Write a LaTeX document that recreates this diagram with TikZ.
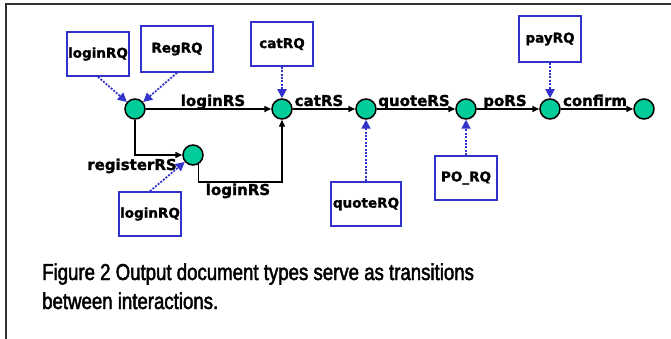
\documentclass[tikz,border=0pt]{standalone}
\usepackage{fontspec}
\usetikzlibrary{arrows.meta}
\newfontfamily\lblfont{DejaVu Sans}[FakeBold=1.5]
\newfontfamily\capfont{Liberation Sans}[FakeStretch=0.81,FakeBold=2]
\definecolor{boxblue}{RGB}{51,51,204}
\definecolor{stategreen}{RGB}{0,204,153}
\definecolor{framegray}{RGB}{50,50,50}
\tikzset{
  state/.style={circle,draw=black,line width=1.5pt,fill=stategreen,minimum size=20pt,inner sep=0pt},
  doc/.style={draw=boxblue,line width=1.6pt,inner sep=0pt,font=\lblfont\bfseries\fontsize{13.5}{16}\selectfont},
  trans/.style={draw=black,line width=1.5pt,-{Triangle[length=7pt,width=6pt]}},
  req/.style={draw=boxblue,line width=1.8pt,dash pattern=on 2pt off 1.4pt,-{Triangle[length=9pt,width=9pt]}},
  elabel/.style={font=\lblfont\bfseries\fontsize{15}{18}\selectfont,anchor=base,inner sep=0pt},
  caption/.style={font=\capfont\fontsize{23}{29}\selectfont,anchor=base west,inner sep=0pt},
}
\begin{document}
\begin{tikzpicture}[x=1pt,y=-1pt]
\useasboundingbox (0,0) rectangle (671,339);
% frame
\draw[framegray,line width=2pt] (6,339) -- (6,4) -- (671,4);
% states
\node[state] (c1) at (135,109) {};
\node[state] (c2) at (282,109) {};
\node[state] (c3) at (193,155) {};
\node[state] (c4) at (366,109) {};
\node[state] (c5) at (466,109) {};
\node[state] (c6) at (550,109) {};
\node[state] (c7) at (644,109) {};
% request documents
\node[doc,minimum width=62pt,minimum height=44pt] (lq1) at (98,54) {loginRQ};
\node[doc,minimum width=72pt,minimum height=46pt] (rq) at (177,49) {RegRQ};
\node[doc,minimum width=62pt,minimum height=44pt] (cq) at (282,44) {catRQ};
\node[doc,minimum width=62pt,minimum height=44pt] (lq2) at (150,214) {loginRQ};
\node[doc,minimum width=70pt,minimum height=44pt] (qq) at (366,204) {quoteRQ};
\node[doc,minimum width=62pt,minimum height=44pt] (pq) at (466,178) {PO\_RQ};
\node[doc,minimum width=62pt,minimum height=46pt] (yq) at (550,39) {payRQ};
% transitions
\draw[trans] (c1) -- (c2);
\draw[trans] (c1.south) |- (c3.west);
\draw[trans] (c3.-60) |- (237,182) -| (c2.south);
\draw[trans] (c2) -- (c4);
\draw[trans] (c4) -- (c5);
\draw[trans] (c5) -- (c6);
\draw[trans] (c6) -- (c7);
% transition labels
\node[elabel] (l1) at (213,106) {loginRS};
\node[elabel] (l2) at (319,106) {catRS};
\node[elabel] (l3) at (414,106) {quoteRS};
\node[elabel] (l4) at (505,106) {poRS};
\node[elabel] (l5) at (595,106) {confirm};
\node[elabel] (l6) at (132,170) {registerRS};
\node[elabel] (l7) at (238,195) {loginRS};
% requests
\draw[req] (lq1.south) -- (c1);
\draw[req] (rq.south) -- (c1);
\draw[req] (cq.south) -- (c2);
\draw[req] (lq2.north) -- (c3);
\draw[req] (qq.north) -- (c4);
\draw[req] (pq.north) -- (c5);
\draw[req] (yq.south) -- (c6);
% caption
\node[caption] (cap1) at (42,280) {Figure 2 Output document types serve as transitions};
\node[caption] (cap2) at (42,309) {between interactions.};
\end{tikzpicture}
\end{document}
